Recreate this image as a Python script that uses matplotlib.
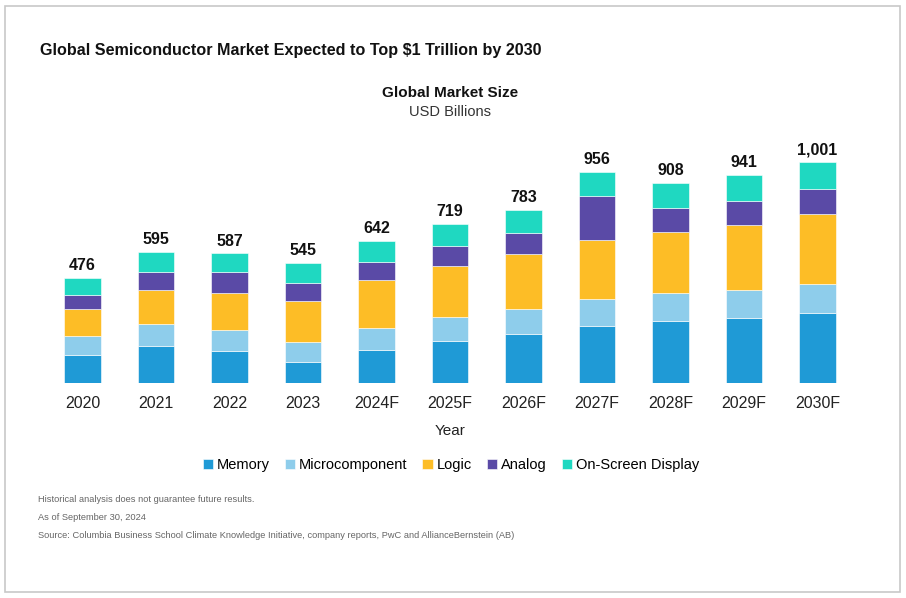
import numpy as np
import matplotlib
matplotlib.use('Agg')
import matplotlib.pyplot as plt
from matplotlib.patches import Rectangle

years = ['2020', '2021', '2022', '2023', '2024F', '2025F', '2026F',
         '2027F', '2028F', '2029F', '2030F']
totals = [476, 595, 587, 545, 642, 719, 783, 956, 908, 941, 1001]

memory = [125, 167, 144, 94, 151, 190, 222, 260, 279, 294, 317]
micro = [90, 102, 97, 93, 96, 110, 113, 122, 129, 126, 132]
logic = [120, 152, 169, 184, 220, 232, 251, 268, 277, 294, 315]
analog = [64, 82, 93, 84, 82, 87, 93, 196, 106, 111, 114]
display = [77, 92, 84, 90, 93, 100, 104, 110, 117, 116, 123]

series = ['Memory', 'Microcomponent', 'Logic', 'Analog', 'On-Screen Display']
colors = ['#1f9ad6', '#8ecdeb', '#fdbd26', '#5a4aa6', '#1fd8c1']

plt.rcParams['font.family'] = ['Liberation Sans', 'DejaVu Sans']

W, H = 906, 598
fig = plt.figure(figsize=(W / 100, H / 100), dpi=100)

# outer frame
fig.patches.append(Rectangle((5 / W, 1 - 592 / H), 895 / W, 586 / H,
                             transform=fig.transFigure, fill=False,
                             edgecolor='#c8c8c8', linewidth=1.2))

ax = fig.add_axes([45.75 / W, 1 - 383 / H, 808.5 / W, 243 / H])
x = np.arange(len(years))
bottom = np.zeros(len(years))
for name, vals, c in zip(series, [memory, micro, logic, analog, display], colors):
    ax.bar(x, vals, 0.5, bottom=bottom, color=c, label=name,
           edgecolor='#ffffff', linewidth=0.4)
    bottom += np.array(vals)

for xi, t in zip(x, totals):
    ax.text(xi, t + 22, f'{t:,}', ha='center', va='bottom',
            fontsize=11.5, fontweight='bold', color='#111111')

ax.set_xlim(-0.5, len(years) - 0.5)
ax.set_ylim(0, 1101)
ax.set_xticks(x)
ax.set_xticklabels(years, fontsize=11.5, color='#222222')
ax.tick_params(axis='x', length=0, pad=9)
ax.set_yticks([])
for s in ax.spines.values():
    s.set_visible(False)

fig.text(40 / W, 1 - 50 / H,
         'Global Semiconductor Market Expected to Top $1 Trillion by 2030',
         fontsize=11.6, fontweight='bold', va='center', ha='left', color='#111111')
fig.text(450 / W, 1 - 93 / H, 'Global Market Size', fontsize=11,
         fontweight='bold', ha='center', va='center', color='#111111')
fig.text(450 / W, 1 - 112 / H, 'USD Billions', fontsize=10.5,
         ha='center', va='center', color='#333333')
fig.text(450 / W, 1 - 431 / H, 'Year', fontsize=11, ha='center',
         va='center', color='#222222')

handles, labels = ax.get_legend_handles_labels()
fig.legend(handles, labels, loc='center', bbox_to_anchor=(451 / W, 1 - 465 / H),
           ncol=5, frameon=False, fontsize=10.5, handlelength=0.7,
           handleheight=0.7, handletextpad=0.3, columnspacing=1.0)

notes = ['Historical analysis does not guarantee future results.',
         'As of September 30, 2024',
         'Source: Columbia Business School Climate Knowledge Initiative, '
         'company reports, PwC and AllianceBernstein (AB)']
for i, n in enumerate(notes):
    fig.text(38 / W, 1 - (499 + 18 * i) / H, n, fontsize=6.7, ha='left',
             va='center', color='#666666')

fig.savefig('out.png', dpi=100)
